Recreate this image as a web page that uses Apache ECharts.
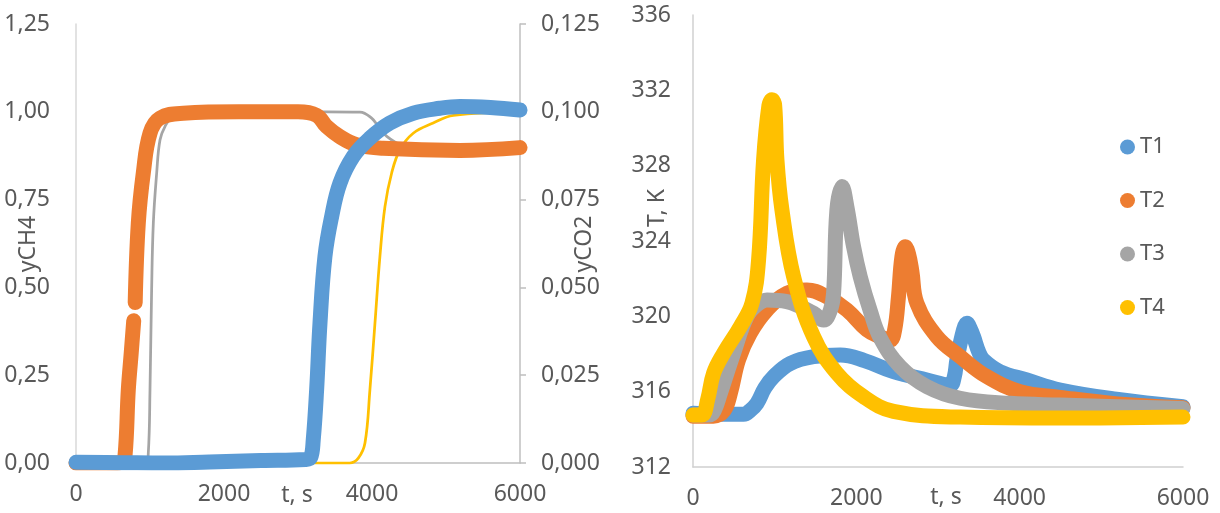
<!DOCTYPE html>
<html>
<head>
<meta charset="utf-8">
<title>yCH4, yCO2 and T vs t</title>
<script src="https://cdn.jsdelivr.net/npm/echarts@6/dist/echarts.min.js"></script>
<style>
  html, body { margin: 0; padding: 0; background: #fff; }
  #chart { width: 1220px; height: 513px; }
</style>
</head>
<body>
<div id="chart"></div>
<script>
// ---- left panel: outlet mole fractions, [t (s), y] ----
const yCH4_a = [[0,0],[560,0],[620,0.004],[662,0.02],[707,0.209],[745,0.31],[780,0.405],[790,'-'],[800,0.457],
  [842,0.683],[909,0.825],[1000,0.939],[1135,0.982],[1450,0.996],[2200,1.0],[3000,1.0],[3252,0.99],
  [3387,0.958],[3567,0.929],[3792,0.906],[4152,0.896],[5188,0.89],[6000,0.898]];
const yCH4_b = [[0,0],[940,0],[977,0.028],[1000,0.209],[1022,0.493],[1045,0.683],[1090,0.825],[1135,0.92],
  [1202,0.958],[1300,0.985],[1500,0.998],[3387,1.0],[3837,0.999],[3995,0.982],[4085,0.958],[4200,0.93],
  [4400,0.905],[4700,0.895],[6000,0.895]];
const yCO2_a = [[0,0.0002],[600,0.0001],[1200,0.0],[1800,0.0003],[2500,0.0007],[3100,0.001],[3170,0.0015],
  [3206,0.0066],[3252,0.0209],[3297,0.0398],[3364,0.0588],[3455,0.0702],[3567,0.0797],[3747,0.0873],
  [3972,0.0925],[4242,0.0968],[4557,0.0996],[4918,0.101],[5188,0.1015],[5600,0.1012],[6000,0.1005]];
const yCO2_b = [[0,0],[3700,0],[3815,0.0014],[3905,0.0057],[3972,0.0209],[4040,0.0398],[4107,0.0588],
  [4175,0.073],[4265,0.0825],[4377,0.0892],[4557,0.0939],[4827,0.0968],[5100,0.099],[6000,0.1]];

// ---- right panel: temperatures, [t (s), T (K)] ----
const T1 = [[0,314.85],[400,314.8],[620,314.8],[700,315.0],[783,315.38],[880,316.2],[987,316.8],[1191,317.5],
  [1476,317.86],[1803,317.95],[2100,317.65],[2455,317.06],[2864,316.62],[3149,316.35],[3200,316.8],
  [3231,317.68],[3312,319.28],[3354,319.63],[3400,319.3],[3435,318.92],[3500,318.1],[3557,317.68],
  [3761,317.06],[4088,316.62],[4496,316.09],[5183,315.6],[6000,315.2]];
const T2 = [[0,314.7],[250,314.7],[380,315.0],[457,315.9],[558,317.7],[701,319.1],[906,320.34],[1150,321.22],
  [1395,321.4],[1640,321.04],[1885,320.34],[2130,319.28],[2300,318.9],[2415,318.74],[2470,319.3],
  [2515,321.0],[2558,323.17],[2599,323.7],[2640,323.3],[2680,322.4],[2742,320.69],[2987,318.92],
  [3272,317.86],[3598,316.8],[4006,316.0],[4496,315.7],[5200,315.35],[6000,315.15]];
const T3 = [[0,314.76],[200,314.76],[260,315.0],[334,315.9],[497,318.04],[661,320.0],[780,320.6],[906,320.87],
  [1150,320.78],[1476,320.16],[1599,319.8],[1680,320.3],[1721,321.2],[1762,325.65],[1824,326.9],
  [1885,325.8],[1966,323.7],[2048,322.1],[2170,320.3],[2293,318.85],[2537,317.33],
  [2864,316.27],[3272,315.65],[3884,315.38],[4496,315.29],[6000,315.1]];
const T4 = [[0,314.76],[110,314.76],[180,315.6],[252,316.98],[375,318.04],[579,319.45],[722,320.69],
  [803,323.0],[864,328.3],[930,331.2],[967,331.5],[1000,331.2],[1028,328.3],[1089,325.65],[1232,322.1],
  [1476,318.92],[1762,316.98],[2090,315.73],[2455,314.95],[3272,314.65],[4496,314.6],[6000,314.65]];

const tTicks = { min: 0, max: 6000, interval: 2000 };
const leftTicks = { min: 0, max: 1.25, interval: 0.25 };
const rightTicks = { min: 0, max: 0.125, interval: 0.025 };
const tempTicks = { min: 312, max: 336, interval: 4 };

const FONT = '"Noto Sans", sans-serif';
const TXT = '#595959';
const C = { blue: '#5B9BD5', orange: '#ED7D31', gray: '#A5A5A5', yellow: '#FFC000' };
const comma = d => v => v.toFixed(d).replace('.', ',');

const labelStyle = { fontSize: 23, color: TXT, fontFamily: FONT };

function thick(color) {
  return { color, width: 15, cap: 'round', join: 'round' };
}
function thin(color) {
  return { color, width: 2.75, cap: 'round', join: 'round' };
}
function line(name, data, xi, yi, style) {
  return {
    name, type: 'line', data, xAxisIndex: xi, yAxisIndex: yi,
    showSymbol: false, symbol: 'circle', smooth: 0.4,
    lineStyle: style, itemStyle: { color: style.color },
    emphasis: { disabled: true }, silent: true
  };
}

const chart = echarts.init(document.getElementById('chart'), null, { renderer: 'canvas' });
chart.setOption({
  animation: false,
  backgroundColor: '#fff',
  grid: [
    { left: 76, top: 24, width: 444, height: 439 },
    { left: 693, top: 15, width: 490, height: 452 }
  ],
  xAxis: [0, 1].map(g => ({
    type: 'value', gridIndex: g, ...tTicks,
    axisLine: { show: true, lineStyle: { color: g === 0 ? '#bfbfbf' : '#d0d0d0', width: 1.5 } },
    axisTick: { show: false }, splitLine: { show: false },
    axisLabel: { ...labelStyle, margin: 20, formatter: v => String(v) }
  })),
  yAxis: [
    { type: 'value', gridIndex: 0, position: 'left', ...leftTicks,
      axisLine: { show: true, lineStyle: { color: '#d9d9d9', width: 1.5 } },
      axisTick: { show: false }, splitLine: { show: false },
      axisLabel: { ...labelStyle, margin: 26, formatter: comma(2) } },
    { type: 'value', gridIndex: 0, position: 'right', ...rightTicks,
      axisLine: { show: true, lineStyle: { color: '#bfbfbf', width: 1.5 } },
      axisTick: { show: true, inside: false, length: 6, lineStyle: { color: '#bfbfbf', width: 1.5 } },
      splitLine: { show: false },
      axisLabel: { ...labelStyle, margin: 21, formatter: comma(3) } },
    { type: 'value', gridIndex: 1, position: 'left', ...tempTicks,
      axisLine: { show: true, lineStyle: { color: '#d0d0d0', width: 1.5 } },
      axisTick: { show: false }, splitLine: { show: false },
      axisLabel: { ...labelStyle, margin: 22, formatter: v => String(v) } }
  ],
  legend: {
    data: ['T1', 'T2', 'T3', 'T4'],
    orient: 'vertical', left: 1115, top: 131,
    icon: 'circle', itemWidth: 15, itemHeight: 15, itemGap: 31.5,
    textStyle: { fontSize: 22, color: TXT, fontFamily: FONT },
    selectedMode: false
  },
  series: [
    line('yCH4 b', yCH4_b, 0, 0, thin(C.gray)),
    line('yCO2 b', yCO2_b, 0, 1, thin(C.yellow)),
    line('yCH4 a', yCH4_a, 0, 0, thick(C.orange)),
    line('yCO2 a', yCO2_a, 0, 1, thick(C.blue)),
    line('T1', T1, 1, 2, thick(C.blue)),
    line('T2', T2, 1, 2, thick(C.orange)),
    line('T3', T3, 1, 2, thick(C.gray)),
    line('T4', T4, 1, 2, thick(C.yellow))
  ],
  graphic: [
    { type: 'text', x: 28, y: 244, rotation: Math.PI / 2,
      style: { text: 'yCH4', fontSize: 23, fontFamily: FONT, fill: TXT, align: 'center', verticalAlign: 'middle' } },
    { type: 'text', x: 584, y: 244, rotation: Math.PI / 2,
      style: { text: 'yCO2', fontSize: 23, fontFamily: FONT, fill: TXT, align: 'center', verticalAlign: 'middle' } },
    { type: 'text', x: 297, y: 495,
      style: { text: 't, s', fontSize: 23, fontFamily: FONT, fill: TXT, align: 'center', verticalAlign: 'middle' } },
    { type: 'text', x: 946, y: 497,
      style: { text: 't, s', fontSize: 23, fontFamily: FONT, fill: TXT, align: 'center', verticalAlign: 'middle' } },
    { type: 'text', x: 657, y: 208, rotation: Math.PI / 2,
      style: { text: 'T, K', fontSize: 23, fontFamily: FONT, fill: TXT, align: 'center', verticalAlign: 'middle' } }
  ]
});
</script>
</body>
</html>
